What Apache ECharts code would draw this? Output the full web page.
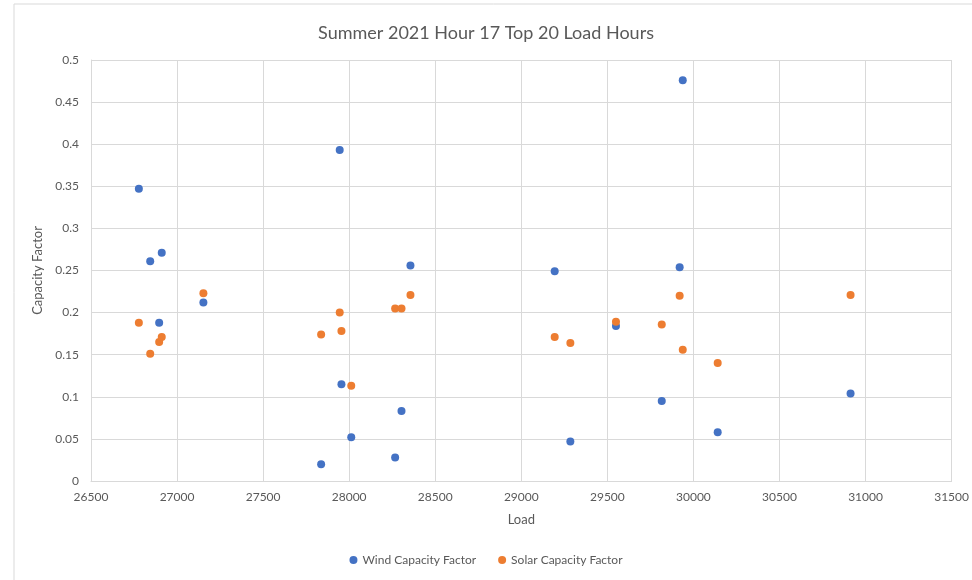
<!DOCTYPE html>
<html>
<head>
<meta charset="utf-8">
<script src="https://cdn.jsdelivr.net/npm/echarts@6/dist/echarts.min.js"></script>
<style>
  html, body { margin: 0; padding: 0; background: #fff; }
  #echarts { width: 972px; height: 580px; }
</style>
</head>
<body>
<div id="echarts"></div>
<script>
const myChart = echarts.init(document.getElementById('echarts'));

// load of each of the top 20 hours
const load = [26778, 26844, 26896, 26911, 27153, 27837, 27945, 27955, 28012, 28267,
  28304, 28356, 29194, 29285, 29550, 29816, 29920, 29938, 30141, 30913];
const windCF = [0.347, 0.261, 0.188, 0.271, 0.212, 0.020, 0.393, 0.115, 0.052, 0.028,
  0.083, 0.256, 0.249, 0.047, 0.184, 0.095, 0.254, 0.476, 0.058, 0.104];
const solarCF = [0.188, 0.151, 0.165, 0.171, 0.223, 0.174, 0.200, 0.178, 0.113, 0.205,
  0.205, 0.221, 0.171, 0.164, 0.189, 0.186, 0.220, 0.156, 0.140, 0.221];

const pair = (ys) => load.map((x, i) => [x, ys[i]]);
const font = 'Lato, "Open Sans", sans-serif';
const grey = '#595959';

let option = {
  animation: false,
  backgroundColor: '#fff',
  textStyle: { fontFamily: font },
  title: {
    text: 'Summer 2021 Hour 17 Top 20 Load Hours',
    left: 'center',
    top: 19,
    textStyle: { fontFamily: font, fontSize: 18, fontWeight: 'normal', color: grey },
  },
  legend: {
    bottom: 9,
    left: 'center',
    icon: 'circle',
    itemWidth: 8,
    itemHeight: 8,
    itemGap: 22,
    textStyle: { fontFamily: font, fontSize: 12, color: grey },
    data: ['Wind Capacity Factor', 'Solar Capacity Factor'],
  },
  graphic: [
    {
      // outer chart frame
      type: 'rect',
      shape: { x: 14, y: 4, width: 1000, height: 620 },
      style: { fill: 'none', stroke: '#d9d9d9', lineWidth: 1 },
      silent: true,
    },
  ],
  grid: { left: 91, right: 19, top: 60, bottom: 99 },
  xAxis: {
    type: 'value',
    min: 26500,
    max: 31500,
    interval: 500,
    name: 'Load',
    nameLocation: 'middle',
    nameGap: 32,
    nameTextStyle: { fontFamily: font, fontSize: 13, color: grey },
    axisLine: { show: true, lineStyle: { color: '#d9d9d9' } },
    axisTick: { show: false },
    axisLabel: { color: grey, fontSize: 12, margin: 10, formatter: (v) => String(v) },
    splitLine: { show: true, lineStyle: { color: '#d9d9d9' } },
  },
  yAxis: {
    type: 'value',
    min: 0,
    max: 0.5,
    interval: 0.05,
    name: 'Capacity Factor',
    nameLocation: 'middle',
    nameGap: 46,
    nameTextStyle: { fontFamily: font, fontSize: 13, color: grey },
    axisLine: { show: true, lineStyle: { color: '#d9d9d9' } },
    axisTick: { show: false },
    axisLabel: {
      color: grey,
      fontSize: 12,
      margin: 12,
      formatter: (v) => String(Math.round(v * 100) / 100),
    },
    splitLine: { show: true, lineStyle: { color: '#d9d9d9' } },
  },
  series: [
    {
      name: 'Wind Capacity Factor',
      type: 'scatter',
      symbolSize: 8,
      itemStyle: { color: '#4472C4', opacity: 1 },
      data: pair(windCF),
    },
    {
      name: 'Solar Capacity Factor',
      type: 'scatter',
      symbolSize: 8,
      itemStyle: { color: '#ED7D31', opacity: 1 },
      data: pair(solarCF),
    },
  ],
};
myChart.setOption(option);
</script>
</body>
</html>
